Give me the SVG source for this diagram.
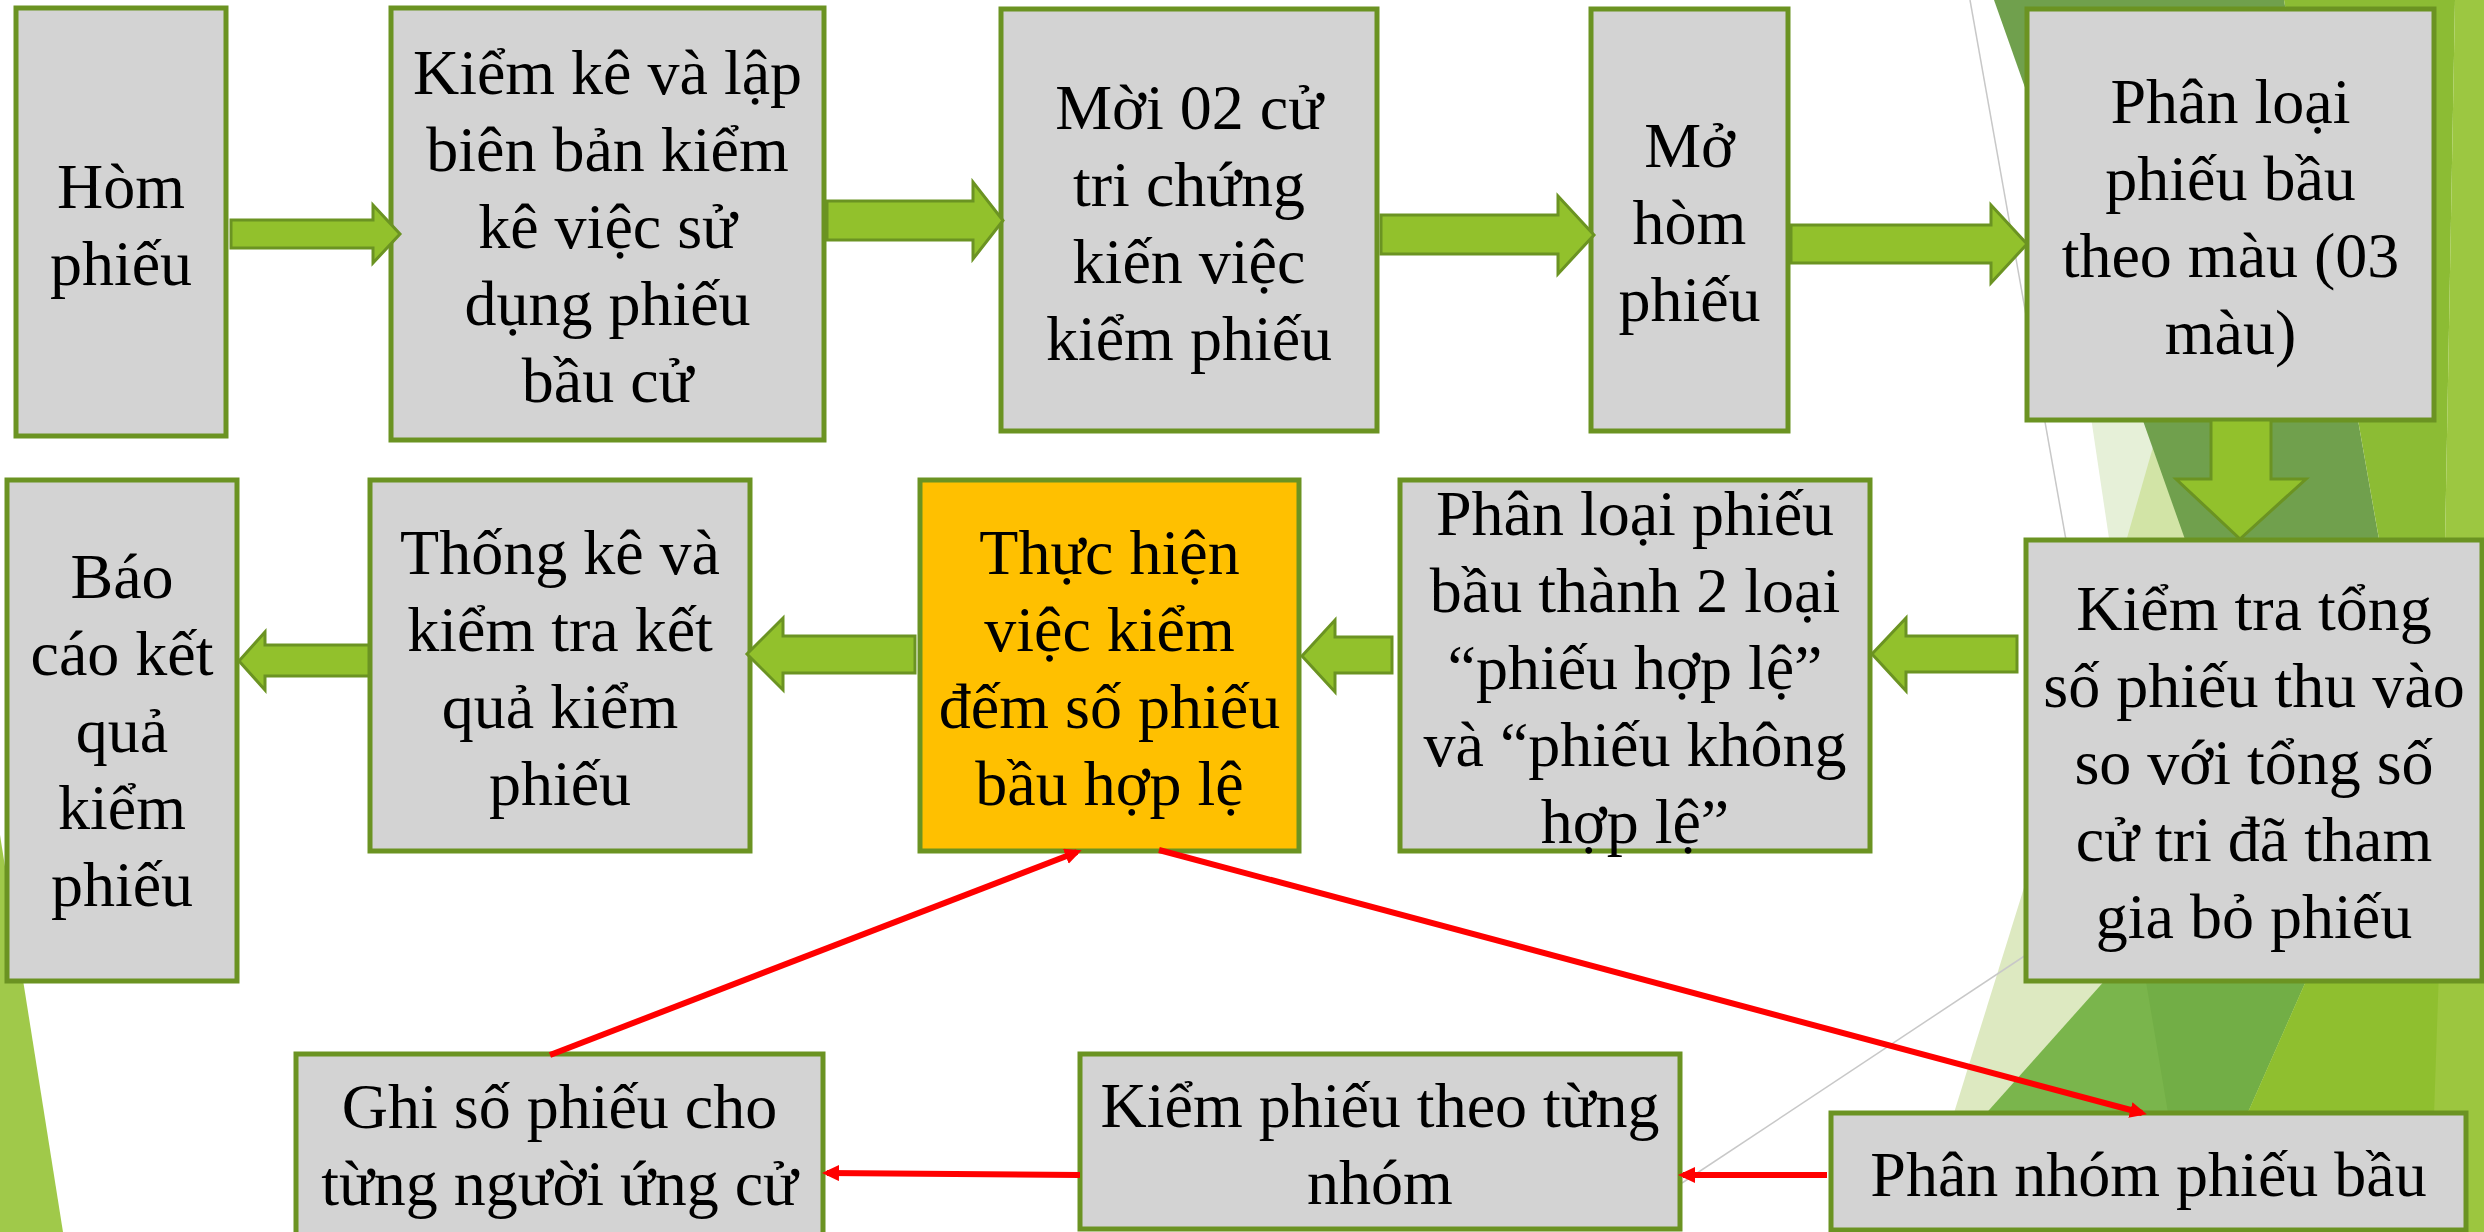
<svg xmlns="http://www.w3.org/2000/svg" width="2484" height="1232" viewBox="0 0 2484 1232">
<defs>
<style>
.box{fill:#d3d3d3;stroke:#6b9322;stroke-width:5}
.hl{fill:#ffc000;stroke:#6b9322;stroke-width:5}
.t{font-family:"Liberation Serif","Times New Roman",serif;font-size:64px;fill:#000;text-anchor:middle}
.ga{fill:#92c12c;stroke:#6b9322;stroke-width:3;stroke-linejoin:miter}
.rl{stroke:#ff0000;stroke-width:6;fill:none}
.gl{stroke:#c8c8c8;stroke-width:1.5;fill:none}
</style>
<marker id="rh" markerUnits="userSpaceOnUse" markerWidth="18" markerHeight="18" refX="12" refY="8" orient="auto">
<path d="M0,0 L17,8 L0,16 z" fill="#ff0000"/>
</marker>
</defs>
<rect width="2484" height="1232" fill="#ffffff"/>
<g id="background">
<polygon points="0,835 63,1232 0,1232" fill="#a0c94a"/>
<polygon points="2078,330 2180,330 2200,545 2110,545" fill="#e6f0d8"/>
<polygon points="2125,545 2155,440 2190,545" fill="#d2e4a6"/>
<polygon points="1994,0 2284,0 2380,545 2187,545" fill="#70a04d"/>
<polygon points="2284,0 2455,0 2445,545 2380,545" fill="#8cbc34"/>
<polygon points="2455,0 2484,0 2484,545 2445,545" fill="#9cc741"/>
<polygon points="2045,820 2210,820 2120,1232 1917,1232" fill="#dde9c1"/>
<polygon points="2141,940 2324,940 2195,1232 1880,1232" fill="#7ab54c"/>
<polygon points="2139,940 2324,940 2195,1232 2188,1232" fill="#72ae46"/>
<polygon points="2324,940 2484,940 2484,1232 2195,1232" fill="#8fbf2f"/>
<polygon points="2440,940 2484,940 2484,1232 2430,1232" fill="#9cc63f"/>
<line class="gl" x1="1970" y1="0" x2="2066" y2="540"/>
<line class="gl" x1="2026" y1="955" x2="1682" y2="1183"/>
</g>
<g id="n1"><rect class="box" x="16" y="8" width="210" height="428"/>
<text class="t"><tspan x="121" y="207.5">Hòm</tspan><tspan x="121" y="284.5">phiếu</tspan></text></g>
<g id="n2"><rect class="box" x="391" y="8" width="433" height="432"/>
<text class="t"><tspan x="607.5" y="94">Kiểm kê và lập</tspan><tspan x="607.5" y="171">biên bản kiểm</tspan><tspan x="607.5" y="248">kê việc sử</tspan><tspan x="607.5" y="325">dụng phiếu</tspan><tspan x="607.5" y="402">bầu cử</tspan></text></g>
<g id="n3"><rect class="box" x="1001" y="9" width="376" height="422"/>
<text class="t"><tspan x="1189" y="128.5">Mời 02 cử</tspan><tspan x="1189" y="205.5">tri chứng</tspan><tspan x="1189" y="282.5">kiến việc</tspan><tspan x="1189" y="359.5">kiểm phiếu</tspan></text></g>
<g id="n4"><rect class="box" x="1591" y="9" width="197" height="422"/>
<text class="t"><tspan x="1689.5" y="167">Mở</tspan><tspan x="1689.5" y="244">hòm</tspan><tspan x="1689.5" y="321">phiếu</tspan></text></g>
<g id="n5"><rect class="box" x="2027" y="9" width="407" height="411"/>
<text class="t"><tspan x="2230.5" y="123">Phân loại</tspan><tspan x="2230.5" y="200">phiếu bầu</tspan><tspan x="2230.5" y="277">theo màu (03</tspan><tspan x="2230.5" y="354">màu)</tspan></text></g>
<g id="n6"><rect class="box" x="2026" y="540" width="456" height="441"/>
<text class="t"><tspan x="2254" y="630">Kiểm tra tổng</tspan><tspan x="2254" y="707">số phiếu thu vào</tspan><tspan x="2254" y="784">so với tổng số</tspan><tspan x="2254" y="861">cử tri đã tham</tspan><tspan x="2254" y="938">gia bỏ phiếu</tspan></text></g>
<g id="n7"><rect class="box" x="1400" y="480" width="470" height="371"/>
<text class="t"><tspan x="1635" y="535">Phân loại phiếu</tspan><tspan x="1635" y="612">bầu thành 2 loại</tspan><tspan x="1635" y="689">“phiếu hợp lệ”</tspan><tspan x="1635" y="766">và “phiếu không</tspan><tspan x="1635" y="843">hợp lệ”</tspan></text></g>
<g id="n8"><rect class="hl" x="920" y="480" width="379" height="371"/>
<text class="t"><tspan x="1109.5" y="573.5">Thực hiện</tspan><tspan x="1109.5" y="650.5">việc kiểm</tspan><tspan x="1109.5" y="727.5">đếm số phiếu</tspan><tspan x="1109.5" y="804.5">bầu hợp lệ</tspan></text></g>
<g id="n9"><rect class="box" x="370" y="480" width="380" height="371"/>
<text class="t"><tspan x="560" y="573.5">Thống kê và</tspan><tspan x="560" y="650.5">kiểm tra kết</tspan><tspan x="560" y="727.5">quả kiểm</tspan><tspan x="560" y="804.5">phiếu</tspan></text></g>
<g id="n10"><rect class="box" x="7" y="480" width="230" height="501"/>
<text class="t"><tspan x="122" y="598">Báo</tspan><tspan x="122" y="675">cáo kết</tspan><tspan x="122" y="752">quả</tspan><tspan x="122" y="829">kiểm</tspan><tspan x="122" y="906">phiếu</tspan></text></g>
<g id="n11"><rect class="box" x="296" y="1054" width="527" height="186"/>
<text class="t"><tspan x="559.5" y="1128">Ghi số phiếu cho</tspan><tspan x="559.5" y="1205">từng người ứng cử</tspan></text></g>
<g id="n12"><rect class="box" x="1080" y="1054" width="600" height="175"/>
<text class="t"><tspan x="1380" y="1127">Kiểm phiếu theo từng</tspan><tspan x="1380" y="1204">nhóm</tspan></text></g>
<g id="n13"><rect class="box" x="1831" y="1113" width="635" height="117"/>
<text class="t"><tspan x="2148.5" y="1196">Phân nhóm phiếu bầu</tspan></text></g>
<g id="connectors">
<polygon class="ga" points="231,220 373,220 373,205 400,234 373,263 373,248 231,248"/>
<polygon class="ga" points="827,201 973,201 973,182 1003,220.5 973,259 973,240 827,240"/>
<polygon class="ga" points="1381,215 1558,215 1558,196 1594,235 1558,274 1558,254 1381,254"/>
<polygon class="ga" points="1791,225 1991,225 1991,205 2027,244 1991,283 1991,263 1791,263"/>
<polygon class="ga" points="2211,420 2271,420 2271,479 2306,479 2240,539 2176,479 2211,479"/>
<polygon class="ga" points="2017,636 1906,636 1906,618 1872,654 1906,691 1906,672 2017,672"/>
<polygon class="ga" points="1392,637 1335,637 1335,620 1302,656 1335,692 1335,673 1392,673"/>
<polygon class="ga" points="915,636 783,636 783,618 747,654 783,690 783,673 915,673"/>
<polygon class="ga" points="369,645 265,645 265,632 239,661 265,690 265,676 369,676"/>
<line class="rl" x1="550" y1="1055" x2="1077" y2="852" marker-end="url(#rh)"/>
<line class="rl" x1="1159" y1="850" x2="2142" y2="1113" marker-end="url(#rh)"/>
<line class="rl" x1="1827" y1="1175" x2="1683" y2="1175" marker-end="url(#rh)"/>
<line class="rl" x1="1080" y1="1175" x2="827" y2="1173" marker-end="url(#rh)"/>
</g>
</svg>
